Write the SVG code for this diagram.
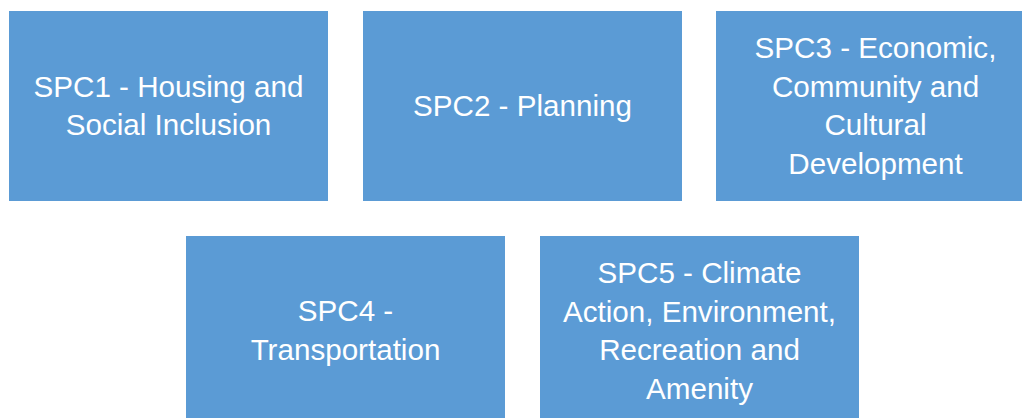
<svg xmlns="http://www.w3.org/2000/svg" width="1022" height="418" viewBox="0 0 1022 418">
<style>
.box{fill:#5B9BD5;}
.lbl{fill:#FFFFFF;font-family:"Liberation Sans",Arial,sans-serif;font-size:29.6px;text-anchor:middle;}
</style>
<rect x="0" y="0" width="1022" height="418" fill="#FFFFFF"/>
<g id="spc1">
<rect class="box" x="9" y="11" width="319" height="190"/>
<text class="lbl" x="168.5" y="96.5">SPC1 - Housing and</text>
<text class="lbl" x="168.5" y="135">Social Inclusion</text>
</g>
<g id="spc2">
<rect class="box" x="363" y="11" width="319" height="190"/>
<text class="lbl" x="522.5" y="116">SPC2 - Planning</text>
</g>
<g id="spc3">
<rect class="box" x="716" y="11" width="319" height="190"/>
<text class="lbl" x="875.5" y="58">SPC3 - Economic,</text>
<text class="lbl" x="875.5" y="96.5">Community and</text>
<text class="lbl" x="875.5" y="135">Cultural</text>
<text class="lbl" x="875.5" y="173.5">Development</text>
</g>
<g id="spc4">
<rect class="box" x="186" y="236" width="319" height="190"/>
<text class="lbl" x="345.5" y="321">SPC4 -</text>
<text class="lbl" x="345.5" y="359.5">Transportation</text>
</g>
<g id="spc5">
<rect class="box" x="540" y="236" width="319" height="190"/>
<text class="lbl" x="699.5" y="283">SPC5 - Climate</text>
<text class="lbl" x="699.5" y="321.5">Action, Environment,</text>
<text class="lbl" x="699.5" y="360">Recreation and</text>
<text class="lbl" x="699.5" y="398.5">Amenity</text>
</g>
<g id="connectors"></g>
</svg>
